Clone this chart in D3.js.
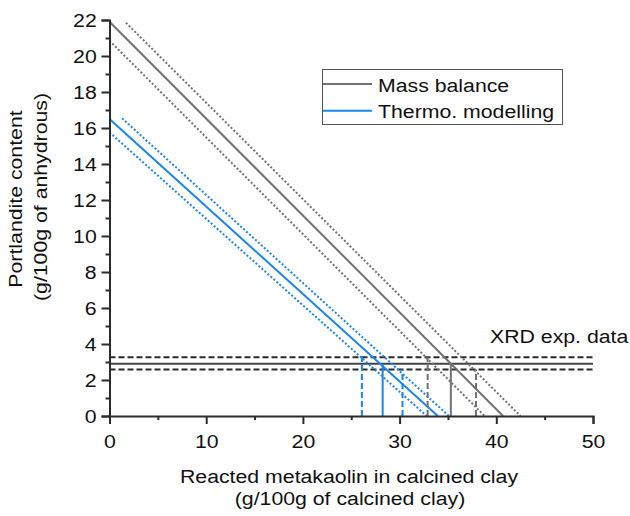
<!DOCTYPE html>
<html>
<head>
<meta charset="utf-8">
<script src="https://cdn.jsdelivr.net/npm/d3@7"></script>
<style>
  html, body { margin: 0; padding: 0; background: #fff; }
  text { font-family: "Liberation Sans", Arial, sans-serif; fill: #111; }
</style>
</head>
<body>
<svg id="chart" width="630" height="516"></svg>
<script>
// Portlandite content vs. reacted metakaolin: estimate lines and XRD band
const massBalance      = [[0, 21.9], [40.7, 0]];
const massBalanceUpper = [[1.7, 21.85], [42.5, 0]];
const massBalanceLower = [[0, 20.85], [38.8, 0]];
const thermo           = [[0, 16.5], [33.95, 0]];
const thermoUpper      = [[1.3, 16.54], [35.1, 0]];
const thermoLower      = [[0, 15.76], [32.8, 0]];

// XRD measured portlandite (mean and range)
const xrdMean = 2.9;
const xrdLow = 2.59;
const xrdHigh = 3.26;

// Drop lines from the intersections to the x axis: [x, top value]
const thermoDrops = [[28.25, xrdMean], [26.1, xrdHigh], [30.3, xrdLow]];
const massDrops   = [[35.3, xrdMean], [32.9, xrdHigh], [37.9, xrdLow]];

const xTicks = [0, 10, 20, 30, 40, 50];
const xMinor = [5, 15, 25, 35, 45];
const yTicks = [0, 2, 4, 6, 8, 10, 12, 14, 16, 18, 20, 22];
const yMinor = [1, 3, 5, 7, 9, 11, 13, 15, 17, 19, 21];

const legendItems = ["Mass balance", "Thermo. modelling"];

const GRAY = "#727272";
const BLUE = "#1a86f0";
const DARK = "#2b2b2b";
const FONT = 19;       // glyph height
const WIDEN = 1.12;    // glyphs are set slightly wide

const svg = d3.select("#chart");
const x = d3.scaleLinear().domain([0, 50]).range([109.5, 593]);
const y = d3.scaleLinear().domain([0, 22]).range([416, 20]);

const line = d3.line().x(d => x(d[0])).y(d => y(d[1]));
const plot = svg.append("g");

function drawLine(data, color, dash) {
  plot.append("path")
    .datum(data)
    .attr("d", line)
    .attr("fill", "none")
    .attr("stroke", color)
    .attr("stroke-width", 2)
    .attr("stroke-dasharray", dash || null);
}

// wide text label at (px, py), optionally rotated
function label(px, py, str, anchor, rot) {
  return svg.append("text")
    .attr("transform", `translate(${px},${py}) rotate(${rot || 0}) scale(${WIDEN},1)`)
    .attr("text-anchor", anchor || "start")
    .attr("font-size", FONT)
    .text(str);
}

// XRD band
drawLine([[0, xrdHigh], [50, xrdHigh]], DARK, "6,3");
drawLine([[0, xrdLow], [50, xrdLow]], DARK, "6,3");
drawLine([[0, xrdMean], [50, xrdMean]], "#444", null);

// Mass balance
drawLine(massBalance, GRAY, null);
drawLine(massBalanceUpper, GRAY, "2,2");
drawLine(massBalanceLower, GRAY, "2,2");

// Thermodynamic modelling
drawLine(thermo, BLUE, null);
drawLine(thermoUpper, BLUE, "2,2");
drawLine(thermoLower, BLUE, "2,2");

// Drop lines
thermoDrops.forEach((d, i) => drawLine([[d[0], 0], [d[0], d[1]]], BLUE, i === 0 ? null : "6,3"));
massDrops.forEach((d, i) => drawLine([[d[0], 0], [d[0], d[1]]], GRAY, i === 0 ? null : "6,3"));

// Axes
svg.append("g").attr("class", "xaxis").attr("transform", `translate(0,${y(0)})`)
  .call(d3.axisBottom(x).tickValues(xTicks).tickSize(8).tickPadding(11).tickFormat(d3.format("d")));
svg.append("g").attr("transform", `translate(0,${y(0)})`)
  .call(d3.axisBottom(x).tickValues(xMinor).tickSize(4).tickFormat(""))
  .call(g => g.select(".domain").remove());
svg.append("g").attr("class", "yaxis").attr("transform", `translate(${x(0)},0)`)
  .call(d3.axisLeft(y).tickValues(yTicks).tickSize(8).tickPadding(4).tickFormat(d3.format("d")));
svg.append("g").attr("transform", `translate(${x(0)},0)`)
  .call(d3.axisLeft(y).tickValues(yMinor).tickSize(4).tickFormat(""))
  .call(g => g.select(".domain").remove());

svg.selectAll(".domain").attr("stroke", DARK).attr("stroke-width", 2);
svg.selectAll(".tick line").attr("stroke", DARK).attr("stroke-width", 2);
svg.selectAll(".tick text").attr("font-size", FONT).attr("fill", "#111")
  .attr("font-family", "Liberation Sans, Arial, sans-serif");
svg.selectAll(".xaxis .tick text").attr("transform", `scale(${WIDEN},1)`);
svg.selectAll(".yaxis .tick text").attr("x", -12.8 / WIDEN).attr("transform", `scale(${WIDEN},1)`);

// Axis titles
label(349, 483, "Reacted metakaolin in calcined clay", "middle");
label(350, 505, "(g/100g of calcined clay)", "middle");
label(22, 199, "Portlandite content", "middle", -90);
label(47, 197, "(g/100g of anhydrous)", "middle", -90);

// XRD label
label(490, 343, "XRD exp. data");

// Legend
const legend = svg.append("g");
legend.append("rect").attr("x", 322.5).attr("y", 69.5).attr("width", 240).attr("height", 55)
  .attr("fill", "#fff").attr("stroke", "#555").attr("stroke-width", 1);
legendItems.forEach((name, i) => {
  const ly = 84 + i * 26.7;
  legend.append("line").attr("x1", 323).attr("x2", 372).attr("y1", ly).attr("y2", ly)
    .attr("stroke", i === 0 ? GRAY : BLUE).attr("stroke-width", 2);
  label(378, ly + 7.5, name);
});
</script>
</body>
</html>
